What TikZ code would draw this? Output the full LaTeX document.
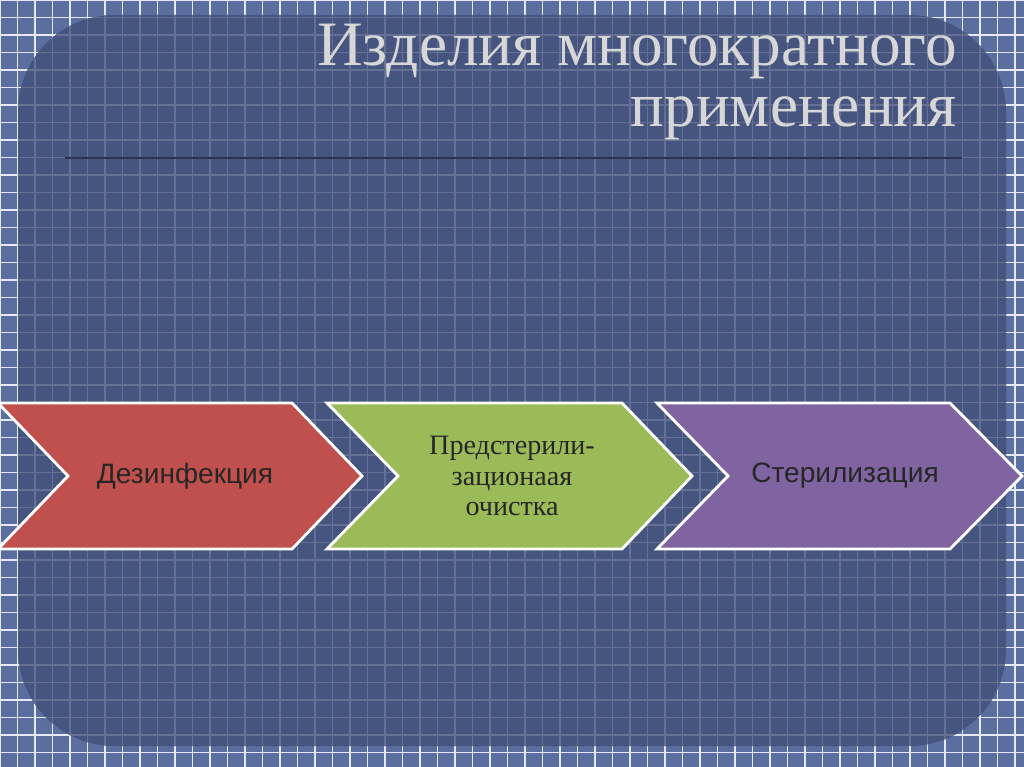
\documentclass[tikz,border=0pt]{standalone}
\usepackage{fontspec}
\setmainfont{Liberation Serif}
\setsansfont{Liberation Sans}
\usetikzlibrary{positioning}
\definecolor{bgblue}{RGB}{90,110,160}
\definecolor{panelblue}{RGB}{70,85,128}
\definecolor{titlegray}{RGB}{215,215,215}
\definecolor{redstep}{RGB}{192,80,77}
\definecolor{greenstep}{RGB}{155,187,89}
\definecolor{purplestep}{RGB}{128,100,162}
\tikzset{
  chevron/.style = {draw=white, line width=1.6pt, line join=miter},
  steptext/.style = {text=black!85, align=center, font=\sffamily\fontsize{16}{18}\selectfont},
  titletext/.style = {text=titlegray, anchor=east, font=\fontsize{36}{40}\selectfont}
}
\begin{document}
\begin{tikzpicture}[x=0.02cm,y=-0.02cm]
\useasboundingbox (0,0) rectangle (1024,767);
% background
\fill[bgblue] (0,0) rectangle (1024,767);
\foreach \g in {0,17.5,...,1024} {
  \draw[white!85!bgblue, line width=0.8pt] (\g,0) -- (\g,767);
  \draw[white!85!bgblue, line width=0.8pt] (0,\g) -- (1024,\g);
}
\fill[panelblue, rounded corners=55] (18,15) rectangle (1006,746);
\begin{scope}
\clip[rounded corners=55] (18,15) rectangle (1006,746);
\foreach \g in {0,17.5,...,1024} {
  \draw[white!16!panelblue, line width=0.6pt] (\g,0) -- (\g,767);
  \draw[white!16!panelblue, line width=0.6pt] (0,\g) -- (1024,\g);
}
\end{scope}
% title
\node (title1) [titletext] at (963,52) {Изделия многократного};
\node (title2) [titletext] at (963,118) {применения};
\draw[black!40!panelblue, line width=0.8pt] (65,158) -- (962,158);
% steps
\draw[chevron, fill=redstep] (-2,403) -- (292,403) -- (362,476) -- (292,549) -- (-2,549) -- (68,476) -- cycle;
\draw[chevron, fill=greenstep] (327,403) -- (622,403) -- (692,476) -- (622,549) -- (327,549) -- (398,476) -- cycle;
\draw[chevron, fill=purplestep] (657,403) -- (950,403) -- (1022,476) -- (950,549) -- (657,549) -- (728,476) -- cycle;
\node (disinf) [steptext] at (185,476) {Дезинфекция};
\node (clean) [steptext, font=\fontsize{16}{17.6}\selectfont] at (512,476) {Предстерили-\\зационаая\\очистка};
\node (steril) [steptext] at (845,476) {Стерилизация};
\end{tikzpicture}
\end{document}
